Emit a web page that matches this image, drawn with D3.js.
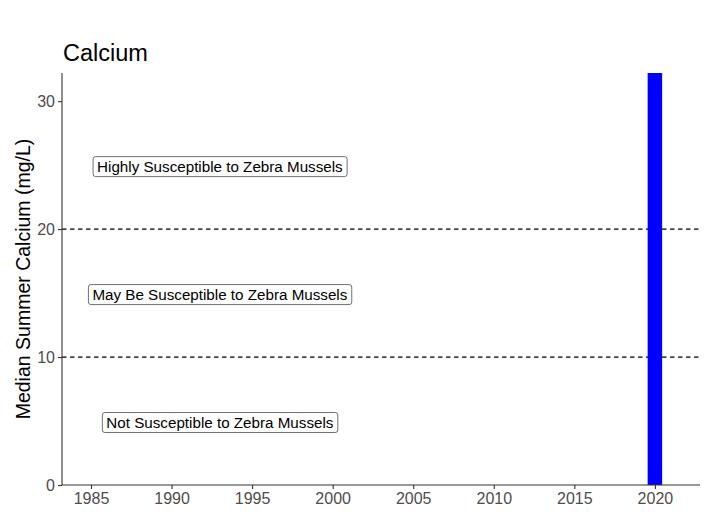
<!DOCTYPE html>
<html>
<head>
<meta charset="utf-8">
<script src="https://cdn.jsdelivr.net/npm/d3@7"></script>
<style>
  body { margin: 0; background: #fff; }
  text { font-family: Arial, "Liberation Sans", sans-serif; }
</style>
</head>
<body>
<div id="chart"></div>
<script>
// data
var years = [2020];
var calcium = [32.2];
var thresholds = [10, 20];
var zoneLabels = ["Not Susceptible to Zebra Mussels", "May Be Susceptible to Zebra Mussels", "Highly Susceptible to Zebra Mussels"];
var zoneY = [5, 15, 25];
var zoneX = [1993, 1993, 1993];
var xTicks = [1985, 1990, 1995, 2000, 2005, 2010, 2015, 2020];
var yTicks = [0, 10, 20, 30];

// dimensions
var W = 715, H = 517;
var margin = {top: 73, right: 15, bottom: 32, left: 62};
var width = W - margin.left - margin.right,
    height = H - margin.top - margin.bottom;

var svg = d3.select("#chart").append("svg")
  .attr("width", W).attr("height", H);

var g = svg.append("g")
  .attr("transform", "translate(" + margin.left + "," + margin.top + ")");

var x = d3.scaleLinear().domain([1983.2, 2022.8]).range([0, width]);
var y = d3.scaleLinear().domain([0, 32.2]).range([height, 0]);

// dashed threshold lines
g.selectAll(".thr").data(thresholds).enter().append("line")
  .attr("x1", 0).attr("x2", width)
  .attr("y1", function(d) { return y(d); })
  .attr("y2", function(d) { return y(d); })
  .attr("stroke", "#000").attr("stroke-width", 1.2)
  .attr("stroke-dasharray", "4.5,3.5");

// bar
var barW = x(2020.45) - x(2019.55);
g.selectAll(".bar").data(years).enter().append("rect")
  .attr("x", function(d) { return x(d) - barW / 2; })
  .attr("width", barW)
  .attr("y", function(d, i) { return y(calcium[i]); })
  .attr("height", function(d, i) { return y(0) - y(calcium[i]); })
  .attr("fill", "#0000ff");

// zone labels (boxed)
zoneLabels.forEach(function(lab, i) {
  var lg = g.append("g").attr("transform", "translate(0,1.5)");
  var t = lg.append("text")
    .attr("x", x(zoneX[i])).attr("y", y(zoneY[i]))
    .attr("text-anchor", "middle").attr("dy", "0.35em")
    .attr("font-size", "15.2px").attr("fill", "#000")
    .text(lab);
  var bb = t.node().getBBox();
  lg.insert("rect", "text")
    .attr("x", bb.x - 4).attr("y", y(zoneY[i]) - 10)
    .attr("width", bb.width + 8).attr("height", 20)
    .attr("rx", 2.5)
    .attr("fill", "#fff").attr("stroke", "#333").attr("stroke-width", 0.7);
});

// axes
var xAxis = g.append("g")
  .attr("transform", "translate(0," + height + ")")
  .call(d3.axisBottom(x).tickValues(xTicks).tickFormat(d3.format("d")).tickSize(4).tickPadding(4));
var yAxis = g.append("g")
  .call(d3.axisLeft(y).tickValues(yTicks).tickSize(4).tickPadding(3));

[xAxis, yAxis].forEach(function(a) {
  a.select(".domain").attr("stroke", "#333").attr("stroke-width", 1.1);
  a.selectAll(".tick line").attr("stroke", "#333").attr("stroke-width", 1.1);
  a.selectAll(".tick text").attr("fill", "#4d4d4d").attr("font-size", "16px")
    .style("font-family", "Arial, 'Liberation Sans', sans-serif");
});
// remove outer domain ticks
xAxis.select(".domain").attr("d", "M0,0H" + width);
yAxis.select(".domain").attr("d", "M0," + height + "V0");

// title
svg.append("text")
  .attr("x", margin.left + 1).attr("y", 61)
  .attr("font-size", "23.5px").attr("fill", "#000")
  .text("Calcium");

// y label
svg.append("text")
  .attr("transform", "translate(30," + (margin.top + height / 2) + ") rotate(-90)")
  .attr("text-anchor", "middle")
  .attr("font-size", "19.5px").attr("fill", "#000")
  .text("Median Summer Calcium (mg/L)");
</script>
</body>
</html>
